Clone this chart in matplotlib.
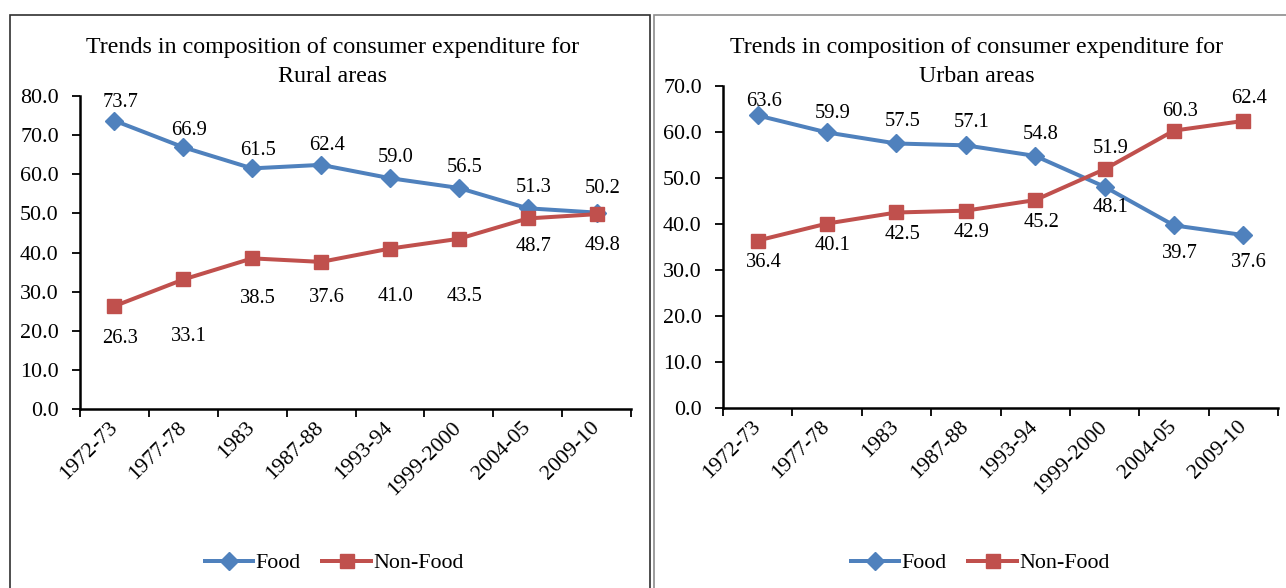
import matplotlib
matplotlib.use("Agg")
import matplotlib.pyplot as plt
from matplotlib.patches import Rectangle

plt.rcParams['font.family'] = ['Liberation Serif', 'DejaVu Serif']

periods = ["1972-73", "1977-78", "1983", "1987-88", "1993-94", "1999-2000", "2004-05", "2009-10"]
rural_food = [73.7, 66.9, 61.5, 62.4, 59.0, 56.5, 51.3, 50.2]
rural_nonfood = [26.3, 33.1, 38.5, 37.6, 41.0, 43.5, 48.7, 49.8]
urban_food = [63.6, 59.9, 57.5, 57.1, 54.8, 48.1, 39.7, 37.6]
urban_nonfood = [36.4, 40.1, 42.5, 42.9, 45.2, 51.9, 60.3, 62.4]

# label vertical offsets (pixels, positive = downwards)
rural_food_dy = [-18, -17, -18, -19, -21, -20, -21, -24]
rural_nonfood_dy = [32, 57, 40, 36, 48, 58, 28, 31]
urban_food_dy = [-14, -19, -22, -23, -21, 21, 28, 27]
urban_nonfood_dy = [22, 22, 22, 22, 22, -21, -19, -22]

BLUE = '#4F81BD'
RED = '#C0504D'
W, H = 1286, 588
DPI = 100
PX = 72 / DPI
FS = 22 * PX
LFS = 20.5 * PX
TFS = 24 * PX

fig = plt.figure(figsize=(W / DPI, H / DPI), dpi=DPI)
fig.patch.set_facecolor('white')

# panel borders
fig.add_artist(Rectangle((10 / W, -0.05), 640 / W, 1.05 - 15 / H, transform=fig.transFigure,
                         fill=False, edgecolor='#303030', linewidth=1.2))
fig.add_artist(Rectangle((654 / W, -0.05), 700 / W, 1.05 - 15 / H, transform=fig.transFigure,
                         fill=False, edgecolor='#8c8c8c', linewidth=1.2))


def make_panel(rect, food, nonfood, food_dy, nonfood_dy, ymax, title1, title2, title_x, leg_x):
    ax = fig.add_axes(rect)
    x = list(range(len(periods)))
    ax.plot(x, food, color=BLUE, lw=4 * PX, marker='D', ms=13 * PX, mfc=BLUE, mec=BLUE,
            label='Food', solid_joinstyle='round', zorder=3)
    ax.plot(x, nonfood, color=RED, lw=4 * PX, marker='s', ms=14 * PX, mfc=RED, mec=RED,
            label='Non-Food', solid_joinstyle='round', zorder=3)
    for xi, v, d in zip(x, food, food_dy):
        ax.annotate(f"{v:.1f}", (xi, v), xytext=(6 * PX, -d * PX), textcoords='offset points',
                    ha='center', va='center', fontsize=LFS)
    for xi, v, d in zip(x, nonfood, nonfood_dy):
        ax.annotate(f"{v:.1f}", (xi, v), xytext=(6 * PX, -d * PX), textcoords='offset points',
                    ha='center', va='center', fontsize=LFS)
    ax.set_xlim(-0.5, len(periods) - 0.5)
    ax.set_ylim(0, ymax)
    ax.set_yticks(range(0, ymax + 1, 10))
    ax.set_yticklabels([f"{t:.1f}" for t in range(0, ymax + 1, 10)], fontsize=FS)
    ax.set_xticks([i - 0.5 for i in range(len(periods) + 1)])
    ax.set_xticklabels([])
    ax.set_xticks(x, minor=True)
    ax.set_xticklabels(periods, minor=True, rotation=45, ha='right', va='center',
                       rotation_mode='anchor', fontsize=FS)
    ax.tick_params(axis='x', which='minor', length=0, pad=16 * PX)
    ax.tick_params(axis='x', which='major', length=6, width=1.3, direction='out')
    ax.tick_params(axis='y', length=6, width=1.3, direction='out', pad=13 * PX)
    for s in ['top', 'right']:
        ax.spines[s].set_visible(False)
    for s in ['left', 'bottom']:
        ax.spines[s].set_linewidth(1.8)
    ax.patch.set_alpha(0)
    fig.text(title_x / W, 1 - 47 / H, title1, ha='center', va='center', fontsize=TFS)
    fig.text(title_x / W, 1 - 76 / H, title2, ha='center', va='center', fontsize=TFS)
    fig.legend(handles=ax.get_lines(), loc='center', bbox_to_anchor=(leg_x / W, 1 - 563 / H),
               ncol=2, frameon=False, fontsize=FS, handlelength=2.2, handletextpad=0.1,
               columnspacing=1.0)
    return ax


make_panel([80 / W, 1 - 409 / H, 551 / W, 313 / H], rural_food, rural_nonfood,
           rural_food_dy, rural_nonfood_dy, 80,
           "Trends in composition of consumer expenditure for", "Rural areas", 333, 334)
make_panel([723 / W, 1 - 408 / H, 555 / W, 322 / H], urban_food, urban_nonfood,
           urban_food_dy, urban_nonfood_dy, 70,
           "Trends in composition of consumer expenditure for", "Urban areas", 977, 980)

fig.savefig('out.png', dpi=DPI)
